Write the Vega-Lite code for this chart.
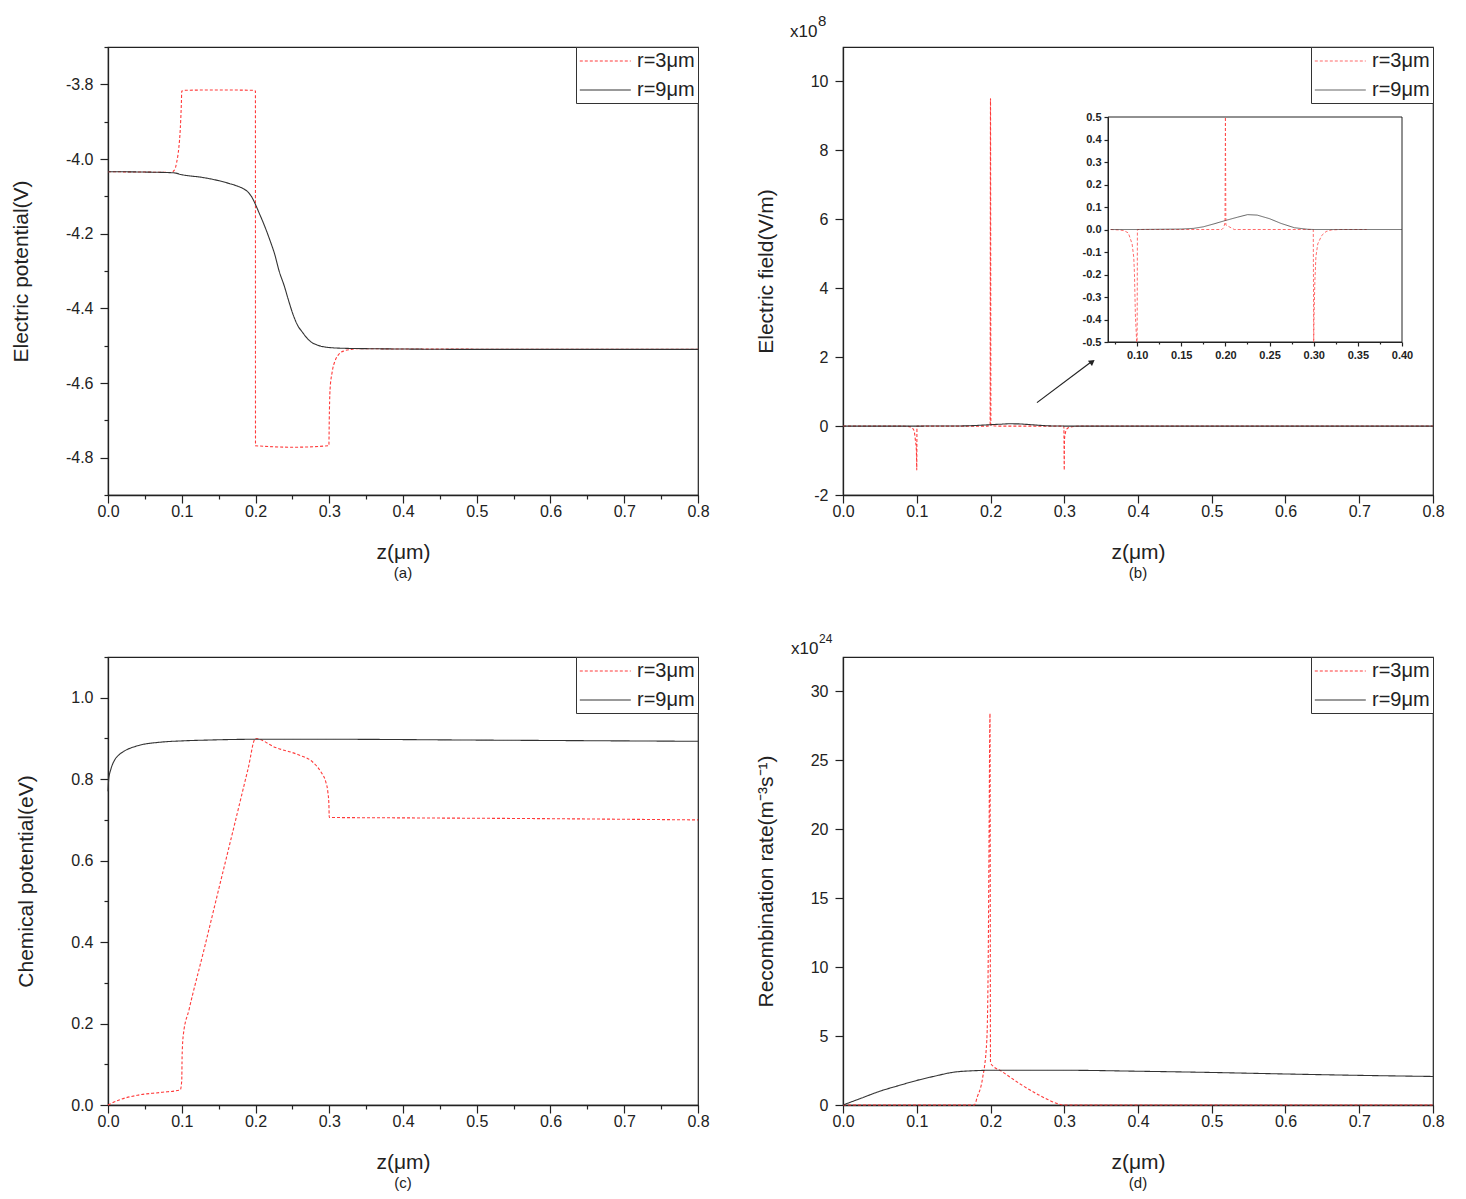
{
"$schema":"https://vega.github.io/schema/vega-lite/v6.json",
"background":"white",
"padding":{"left":9,"top":13,"right":5,"bottom":5},
"datasets":{
"a":[
{"z":0,"v":-4.034,"r":"r=3μm"},{"z":0.05,"v":-4.035,"r":"r=3μm"},{"z":0.085,"v":-4.036,"r":"r=3μm"},{"z":0.09,"v":-4.03,"r":"r=3μm"},{"z":0.093,"v":-4.01,"r":"r=3μm"},{"z":0.096,"v":-3.97,"r":"r=3μm"},{"z":0.098,"v":-3.92,"r":"r=3μm"},{"z":0.0995,"v":-3.85,"r":"r=3μm"},{"z":0.1,"v":-3.818,"r":"r=3μm"},{"z":0.105,"v":-3.816,"r":"r=3μm"},{"z":0.15,"v":-3.815,"r":"r=3μm"},{"z":0.195,"v":-3.816,"r":"r=3μm"},{"z":0.1999,"v":-3.818,"r":"r=3μm"},{"z":0.2,"v":-4.768,"r":"r=3μm"},{"z":0.25,"v":-4.772,"r":"r=3μm"},{"z":0.2995,"v":-4.768,"r":"r=3μm"},{"z":0.3,"v":-4.7,"r":"r=3μm"},{"z":0.301,"v":-4.62,"r":"r=3μm"},{"z":0.304,"v":-4.57,"r":"r=3μm"},{"z":0.308,"v":-4.54,"r":"r=3μm"},{"z":0.313,"v":-4.523,"r":"r=3μm"},{"z":0.32,"v":-4.514,"r":"r=3μm"},{"z":0.33,"v":-4.51,"r":"r=3μm"},{"z":0.34,"v":-4.508,"r":"r=3μm"},{"z":0.4,"v":-4.509,"r":"r=3μm"},{"z":0.8,"v":-4.51,"r":"r=3μm"},
{"z":0,"v":-4.034,"r":"r=9μm"},{"z":0.05,"v":-4.035,"r":"r=9μm"},{"z":0.089,"v":-4.037,"r":"r=9μm"},{"z":0.1,"v":-4.042,"r":"r=9μm"},{"z":0.13,"v":-4.05,"r":"r=9μm"},{"z":0.15,"v":-4.058,"r":"r=9μm"},{"z":0.165,"v":-4.066,"r":"r=9μm"},{"z":0.176,"v":-4.073,"r":"r=9μm"},{"z":0.184,"v":-4.08,"r":"r=9μm"},{"z":0.19,"v":-4.089,"r":"r=9μm"},{"z":0.195,"v":-4.102,"r":"r=9μm"},{"z":0.2,"v":-4.122,"r":"r=9μm"},{"z":0.205,"v":-4.145,"r":"r=9μm"},{"z":0.21,"v":-4.168,"r":"r=9μm"},{"z":0.215,"v":-4.193,"r":"r=9μm"},{"z":0.22,"v":-4.22,"r":"r=9μm"},{"z":0.226,"v":-4.255,"r":"r=9μm"},{"z":0.232,"v":-4.3,"r":"r=9μm"},{"z":0.239,"v":-4.34,"r":"r=9μm"},{"z":0.245,"v":-4.38,"r":"r=9μm"},{"z":0.251,"v":-4.417,"r":"r=9μm"},{"z":0.257,"v":-4.445,"r":"r=9μm"},{"z":0.264,"v":-4.465,"r":"r=9μm"},{"z":0.27,"v":-4.48,"r":"r=9μm"},{"z":0.276,"v":-4.491,"r":"r=9μm"},{"z":0.282,"v":-4.497,"r":"r=9μm"},{"z":0.288,"v":-4.501,"r":"r=9μm"},{"z":0.3,"v":-4.505,"r":"r=9μm"},{"z":0.32,"v":-4.507,"r":"r=9μm"},{"z":0.35,"v":-4.508,"r":"r=9μm"},{"z":0.4,"v":-4.509,"r":"r=9μm"},{"z":0.5,"v":-4.51,"r":"r=9μm"},{"z":0.8,"v":-4.51,"r":"r=9μm"}
],
"b":[
{"z":0,"v":0,"r":"r=3μm"},{"z":0.07,"v":0,"r":"r=3μm"},{"z":0.08,"v":-0.002,"r":"r=3μm"},{"z":0.085,"v":-0.005,"r":"r=3μm"},{"z":0.09,"v":-0.015,"r":"r=3μm"},{"z":0.0943,"v":-0.064,"r":"r=3μm"},{"z":0.0962,"v":-0.124,"r":"r=3μm"},{"z":0.097,"v":-0.2,"r":"r=3μm"},{"z":0.098,"v":-0.38,"r":"r=3μm"},{"z":0.0995,"v":-0.7,"r":"r=3μm"},{"z":0.1,"v":-1.27,"r":"r=3μm"},{"z":0.1003,"v":0,"r":"r=3μm"},{"z":0.15,"v":0,"r":"r=3μm"},{"z":0.196,"v":0,"r":"r=3μm"},{"z":0.198,"v":0.008,"r":"r=3μm"},{"z":0.1995,"v":0.03,"r":"r=3μm"},{"z":0.2,"v":9.5,"r":"r=3μm"},{"z":0.2005,"v":0.02,"r":"r=3μm"},{"z":0.21,"v":0,"r":"r=3μm"},{"z":0.2995,"v":0,"r":"r=3μm"},{"z":0.3,"v":-1.27,"r":"r=3μm"},{"z":0.3003,"v":-0.4,"r":"r=3μm"},{"z":0.3013,"v":-0.23,"r":"r=3μm"},{"z":0.3025,"v":-0.12,"r":"r=3μm"},{"z":0.3046,"v":-0.064,"r":"r=3μm"},{"z":0.309,"v":-0.027,"r":"r=3μm"},{"z":0.314,"v":-0.009,"r":"r=3μm"},{"z":0.32,"v":-0.002,"r":"r=3μm"},{"z":0.33,"v":0,"r":"r=3μm"},{"z":0.36,"v":0,"r":"r=3μm"},{"z":0.8,"v":0,"r":"r=3μm"},
{"z":0,"v":0,"r":"r=9μm"},{"z":0.07,"v":0,"r":"r=9μm"},{"z":0.1,"v":0,"r":"r=9μm"},{"z":0.15,"v":0.002,"r":"r=9μm"},{"z":0.164,"v":0.005,"r":"r=9μm"},{"z":0.175,"v":0.012,"r":"r=9μm"},{"z":0.187,"v":0.025,"r":"r=9μm"},{"z":0.2,"v":0.04,"r":"r=9μm"},{"z":0.214,"v":0.055,"r":"r=9μm"},{"z":0.225,"v":0.066,"r":"r=9μm"},{"z":0.236,"v":0.064,"r":"r=9μm"},{"z":0.25,"v":0.048,"r":"r=9μm"},{"z":0.263,"v":0.027,"r":"r=9μm"},{"z":0.278,"v":0.008,"r":"r=9μm"},{"z":0.293,"v":0.001,"r":"r=9μm"},{"z":0.3,"v":0,"r":"r=9μm"},{"z":0.4,"v":0,"r":"r=9μm"},{"z":0.8,"v":0,"r":"r=9μm"}
],
"c":[
{"z":0,"v":0,"r":"r=3μm"},{"z":0.016,"v":0.013,"r":"r=3μm"},{"z":0.04,"v":0.024,"r":"r=3μm"},{"z":0.072,"v":0.031,"r":"r=3μm"},{"z":0.098,"v":0.037,"r":"r=3μm"},{"z":0.1,"v":0.06,"r":"r=3μm"},{"z":0.1005,"v":0.12,"r":"r=3μm"},{"z":0.102,"v":0.17,"r":"r=3μm"},{"z":0.11,"v":0.235,"r":"r=3μm"},{"z":0.13,"v":0.38,"r":"r=3μm"},{"z":0.15,"v":0.529,"r":"r=3μm"},{"z":0.17,"v":0.677,"r":"r=3μm"},{"z":0.19,"v":0.826,"r":"r=3μm"},{"z":0.2,"v":0.9,"r":"r=3μm"},{"z":0.227,"v":0.878,"r":"r=3μm"},{"z":0.258,"v":0.86,"r":"r=3μm"},{"z":0.277,"v":0.843,"r":"r=3μm"},{"z":0.289,"v":0.817,"r":"r=3μm"},{"z":0.295,"v":0.795,"r":"r=3μm"},{"z":0.298,"v":0.77,"r":"r=3μm"},{"z":0.2995,"v":0.74,"r":"r=3μm"},{"z":0.3,"v":0.706,"r":"r=3μm"},{"z":0.4,"v":0.705,"r":"r=3μm"},{"z":0.6,"v":0.703,"r":"r=3μm"},{"z":0.8,"v":0.7,"r":"r=3μm"},
{"z":0,"v":0.77,"r":"r=9μm"},{"z":0.001,"v":0.8,"r":"r=9μm"},{"z":0.004,"v":0.825,"r":"r=9μm"},{"z":0.009,"v":0.847,"r":"r=9μm"},{"z":0.015,"v":0.86,"r":"r=9μm"},{"z":0.022,"v":0.869,"r":"r=9μm"},{"z":0.04,"v":0.882,"r":"r=9μm"},{"z":0.072,"v":0.891,"r":"r=9μm"},{"z":0.1,"v":0.894,"r":"r=9μm"},{"z":0.134,"v":0.896,"r":"r=9μm"},{"z":0.2,"v":0.898,"r":"r=9μm"},{"z":0.3,"v":0.898,"r":"r=9μm"},{"z":0.5,"v":0.896,"r":"r=9μm"},{"z":0.8,"v":0.893,"r":"r=9μm"}
],
"d":[
{"z":0,"v":0,"r":"r=3μm"},{"z":0.178,"v":0,"r":"r=3μm"},{"z":0.182,"v":0.57,"r":"r=3μm"},{"z":0.189,"v":1.87,"r":"r=3μm"},{"z":0.195,"v":4.7,"r":"r=3μm"},{"z":0.197,"v":11.2,"r":"r=3μm"},{"z":0.198,"v":19,"r":"r=3μm"},{"z":0.1993,"v":28.4,"r":"r=3μm"},{"z":0.2,"v":3.03,"r":"r=3μm"},{"z":0.2167,"v":2.39,"r":"r=3μm"},{"z":0.2416,"v":1.48,"r":"r=3μm"},{"z":0.2665,"v":0.7,"r":"r=3μm"},{"z":0.291,"v":0.1,"r":"r=3μm"},{"z":0.2976,"v":0,"r":"r=3μm"},{"z":0.8,"v":0,"r":"r=3μm"},
{"z":0,"v":0,"r":"r=9μm"},{"z":0.025,"v":0.5,"r":"r=9μm"},{"z":0.05,"v":1.0,"r":"r=9μm"},{"z":0.075,"v":1.4,"r":"r=9μm"},{"z":0.1,"v":1.78,"r":"r=9μm"},{"z":0.125,"v":2.1,"r":"r=9μm"},{"z":0.15,"v":2.38,"r":"r=9μm"},{"z":0.175,"v":2.48,"r":"r=9μm"},{"z":0.2,"v":2.52,"r":"r=9μm"},{"z":0.3,"v":2.52,"r":"r=9μm"},{"z":0.4,"v":2.45,"r":"r=9μm"},{"z":0.5,"v":2.36,"r":"r=9μm"},{"z":0.6,"v":2.25,"r":"r=9μm"},{"z":0.7,"v":2.15,"r":"r=9μm"},{"z":0.8,"v":2.07,"r":"r=9μm"}
]
},
"concat":[
{
"width":590,"height":448,
"title":{"text":"(a)","orient":"bottom"},
"data":{"name":"a"},
"mark":{"type":"line","strokeWidth":1.1,"interpolate":"monotone"},
"encoding":{
"x":{"field":"z","type":"quantitative","scale":{"domain":[0,0.8],"nice":false,"zero":false},"axis":{"title":"z(μm)","values":[0,0.05,0.1,0.15,0.2,0.25,0.3,0.35,0.4,0.45,0.5,0.55,0.6,0.65,0.7,0.75,0.8],"labelExpr":"abs(datum.value*10-round(datum.value*10))<0.001 ? format(datum.value,'.1f') : ''","tickSize":{"condition":{"test":"abs(datum.value*10-round(datum.value*10))<0.001","value":8},"value":4}}},
"y":{"field":"v","type":"quantitative","scale":{"domain":[-4.9,-3.7],"nice":false,"zero":false},"axis":{"title":"Electric potential(V)","values":[-4.9,-4.8,-4.7,-4.6,-4.5,-4.4,-4.3,-4.2,-4.1,-4.0,-3.9,-3.8,-3.7],"labelExpr":"abs(datum.value*5-round(datum.value*5))<0.001 ? replace(format(datum.value,'.1f'),'−','-') : ''","tickSize":{"condition":{"test":"abs(datum.value*5-round(datum.value*5))<0.001","value":8},"value":4}}},
"color":{"field":"r","type":"nominal","scale":{"domain":["r=3μm","r=9μm"],"range":["#ff3b3b","#333333"]},"legend":{"title":null}},
"strokeDash":{"field":"r","type":"nominal","scale":{"domain":["r=3μm","r=9μm"],"range":[[3,2],[1,0]]},"legend":{"title":null}}
}
},
{
"width":590,"height":448,
"title":{"text":"(b)","orient":"bottom"},
"layer":[
{"layer":[
{"data":{"name":"b"},
"mark":{"type":"line","strokeWidth":1.1,"interpolate":"monotone"},
"encoding":{
"x":{"field":"z","type":"quantitative","scale":{"domain":[0,0.8],"nice":false,"zero":false},"axis":{"title":"z(μm)","values":[0,0.05,0.1,0.15,0.2,0.25,0.3,0.35,0.4,0.45,0.5,0.55,0.6,0.65,0.7,0.75,0.8],"labelExpr":"abs(datum.value*10-round(datum.value*10))<0.001 ? format(datum.value,'.1f') : ''","tickSize":{"condition":{"test":"abs(datum.value*10-round(datum.value*10))<0.001","value":8},"value":4}}},
"y":{"field":"v","type":"quantitative","scale":{"domain":[-2,11],"nice":false,"zero":false},"axis":{"title":"Electric field(V/m)","values":[-2,-1,0,1,2,3,4,5,6,7,8,9,10,11],"labelExpr":"abs(datum.value % 2)<0.001 ? replace(format(datum.value,'d'),'−','-') : ''","tickSize":{"condition":{"test":"abs(datum.value % 2)<0.001","value":8},"value":4}}},
"color":{"field":"r","type":"nominal","scale":{"domain":["r=3μm","r=9μm"],"range":["#ff3b3b","#333333"]},"legend":{"title":null}},
"strokeDash":{"field":"r","type":"nominal","scale":{"domain":["r=3μm","r=9μm"],"range":[[3,2],[1,0]]},"legend":{"title":null}}
}},
{"data":{"values":[{}]},
"mark":{"type":"text","align":"left","baseline":"alphabetic","dx":-53,"dy":-10,"fontSize":17,"color":"#222"},
"encoding":{"x":{"datum":0},"y":{"datum":11},"text":{"value":"x10"}}},
{"data":{"values":[{}]},
"mark":{"type":"text","align":"left","baseline":"alphabetic","dx":-25,"dy":-21,"fontSize":15,"color":"#222"},
"encoding":{"x":{"datum":0},"y":{"datum":11},"text":{"value":"8"}}},
{"data":{"values":[{}]},
"mark":{"type":"rule","color":"#222","strokeWidth":1.2},
"encoding":{"x":{"datum":0.263},"y":{"datum":0.68},"x2":{"datum":0.335},"y2":{"datum":1.84}}},
{"data":{"values":[{}]},
"mark":{"type":"point","shape":"triangle-up","filled":true,"color":"#222","opacity":1,"size":45,"angle":53},
"encoding":{"x":{"datum":0.338},"y":{"datum":1.87}}}
]},
{"layer":[
{"data":{"values":[{}]},
"mark":{"type":"rect","fill":"white","stroke":"#222","strokeWidth":1},
"encoding":{
"x":{"datum":0.067,"type":"quantitative","scale":{"domain":[0.067,0.4],"range":[265,559],"nice":false,"zero":false},"axis":{"orient":"bottom","offset":-153,"title":null,"zindex":1,"values":[0.075,0.1,0.125,0.15,0.175,0.2,0.225,0.25,0.275,0.3,0.325,0.35,0.375,0.4],"labelExpr":"abs(datum.value*20-round(datum.value*20))<0.001 ? format(datum.value,'.2f') : ''","tickSize":{"condition":{"test":"abs(datum.value*20-round(datum.value*20))<0.001","value":4},"value":2},"labelFontSize":11,"labelFontWeight":"bold","labelPadding":3,"domainWidth":1}},
"x2":{"datum":0.4},
"y":{"datum":-0.5,"type":"quantitative","scale":{"domain":[-0.5,0.5],"range":[295,70],"nice":false,"zero":false,"clamp":true},"axis":{"orient":"left","offset":-265,"title":null,"zindex":1,"values":[-0.5,-0.45,-0.4,-0.35,-0.3,-0.25,-0.2,-0.15,-0.1,-0.05,0,0.05,0.1,0.15,0.2,0.25,0.3,0.35,0.4,0.45,0.5],"labelExpr":"abs(datum.value*10-round(datum.value*10))<0.001 ? replace(format(datum.value,'.1f'),'−','-') : ''","tickSize":{"condition":{"test":"abs(datum.value*10-round(datum.value*10))<0.001","value":4},"value":2},"labelFontSize":11,"labelFontWeight":"bold","labelPadding":3,"domainWidth":1}},
"y2":{"datum":0.5}
}},
{"data":{"name":"b"},
"transform":[{"filter":"datum.z>=0.067 && datum.z<=0.4"}],
"mark":{"type":"line","strokeWidth":1,"opacity":0.75},
"encoding":{
"x":{"field":"z","type":"quantitative"},
"y":{"field":"v","type":"quantitative"},
"color":{"field":"r","type":"nominal","legend":{"title":null}},
"strokeDash":{"field":"r","type":"nominal","legend":{"title":null}}
}}
]}
],
"resolve":{"scale":{"x":"independent","y":"independent"}}
},
{
"width":590,"height":448,
"title":{"text":"(c)","orient":"bottom"},
"data":{"name":"c"},
"mark":{"type":"line","strokeWidth":1.1,"interpolate":"monotone"},
"encoding":{
"x":{"field":"z","type":"quantitative","scale":{"domain":[0,0.8],"nice":false,"zero":false},"axis":{"title":"z(μm)","values":[0,0.05,0.1,0.15,0.2,0.25,0.3,0.35,0.4,0.45,0.5,0.55,0.6,0.65,0.7,0.75,0.8],"labelExpr":"abs(datum.value*10-round(datum.value*10))<0.001 ? format(datum.value,'.1f') : ''","tickSize":{"condition":{"test":"abs(datum.value*10-round(datum.value*10))<0.001","value":8},"value":4}}},
"y":{"field":"v","type":"quantitative","scale":{"domain":[0,1.1],"nice":false,"zero":false},"axis":{"title":"Chemical potential(eV)","values":[0,0.1,0.2,0.3,0.4,0.5,0.6,0.7,0.8,0.9,1.0,1.1],"labelExpr":"abs(datum.value*5-round(datum.value*5))<0.001 ? format(datum.value,'.1f') : ''","tickSize":{"condition":{"test":"abs(datum.value*5-round(datum.value*5))<0.001","value":8},"value":4}}},
"color":{"field":"r","type":"nominal","scale":{"domain":["r=3μm","r=9μm"],"range":["#ff3b3b","#333333"]},"legend":{"title":null}},
"strokeDash":{"field":"r","type":"nominal","scale":{"domain":["r=3μm","r=9μm"],"range":[[3,2],[1,0]]},"legend":{"title":null}}
}
},
{
"width":590,"height":448,
"title":{"text":"(d)","orient":"bottom"},
"layer":[
{"data":{"name":"d"},
"mark":{"type":"line","strokeWidth":1.1,"interpolate":"monotone"},
"encoding":{
"x":{"field":"z","type":"quantitative","scale":{"domain":[0,0.8],"nice":false,"zero":false},"axis":{"title":"z(μm)","values":[0,0.05,0.1,0.15,0.2,0.25,0.3,0.35,0.4,0.45,0.5,0.55,0.6,0.65,0.7,0.75,0.8],"labelExpr":"abs(datum.value*10-round(datum.value*10))<0.001 ? format(datum.value,'.1f') : ''","tickSize":{"condition":{"test":"abs(datum.value*10-round(datum.value*10))<0.001","value":8},"value":4}}},
"y":{"field":"v","type":"quantitative","scale":{"domain":[0,32.5],"nice":false,"zero":false},"axis":{"title":"Recombination rate(m⁻³s⁻¹)","values":[0,2.5,5,7.5,10,12.5,15,17.5,20,22.5,25,27.5,30,32.5],"labelExpr":"abs(datum.value % 5)<0.001 ? format(datum.value,'d') : ''","tickSize":{"condition":{"test":"abs(datum.value % 5)<0.001","value":8},"value":4}}},
"color":{"field":"r","type":"nominal","scale":{"domain":["r=3μm","r=9μm"],"range":["#ff3b3b","#333333"]},"legend":{"title":null}},
"strokeDash":{"field":"r","type":"nominal","scale":{"domain":["r=3μm","r=9μm"],"range":[[3,2],[1,0]]},"legend":{"title":null}}
}},
{"data":{"values":[{}]},
"mark":{"type":"text","align":"left","baseline":"alphabetic","dx":-52,"dy":-3,"fontSize":17,"color":"#222"},
"encoding":{"x":{"datum":0},"y":{"datum":32.5},"text":{"value":"x10"}}},
{"data":{"values":[{}]},
"mark":{"type":"text","align":"left","baseline":"alphabetic","dx":-24,"dy":-14,"fontSize":12,"color":"#222"},
"encoding":{"x":{"datum":0},"y":{"datum":32.5},"text":{"value":"24"}}}
]
}
],
"columns":2,
"spacing":{"row":162,"column":145},
"bounds":"flush",
"resolve":{"scale":{"x":"independent","y":"independent","color":"independent","strokeDash":"independent"}},
"config":{
"font":"Liberation Sans",
"view":{"stroke":"#222","strokeWidth":1.2},
"axis":{"grid":false,"domainColor":"#222","domainWidth":1.3,"tickColor":"#222","tickWidth":1.2,"labelColor":"#222","labelFontSize":16,"titleColor":"#222","titleFontWeight":"normal","labelFlush":false,"labelOverlap":false},
"axisX":{"titleFontSize":21,"titlePadding":22,"labelPadding":0},
"axisY":{"titleFontSize":21,"titlePadding":34,"labelPadding":7},
"title":{"fontSize":15,"fontWeight":"normal","color":"#222","offset":0},
"legend":{"orient":"top-right","offset":0,"strokeColor":"#333","fillColor":"white","padding":3,"labelFontSize":20,"labelColor":"#222","symbolType":"M-1,0H4","symbolSize":416,"symbolStrokeWidth":1.1,"labelOffset":36,"rowPadding":8,"cornerRadius":0,"labelLimit":200}
}
}
